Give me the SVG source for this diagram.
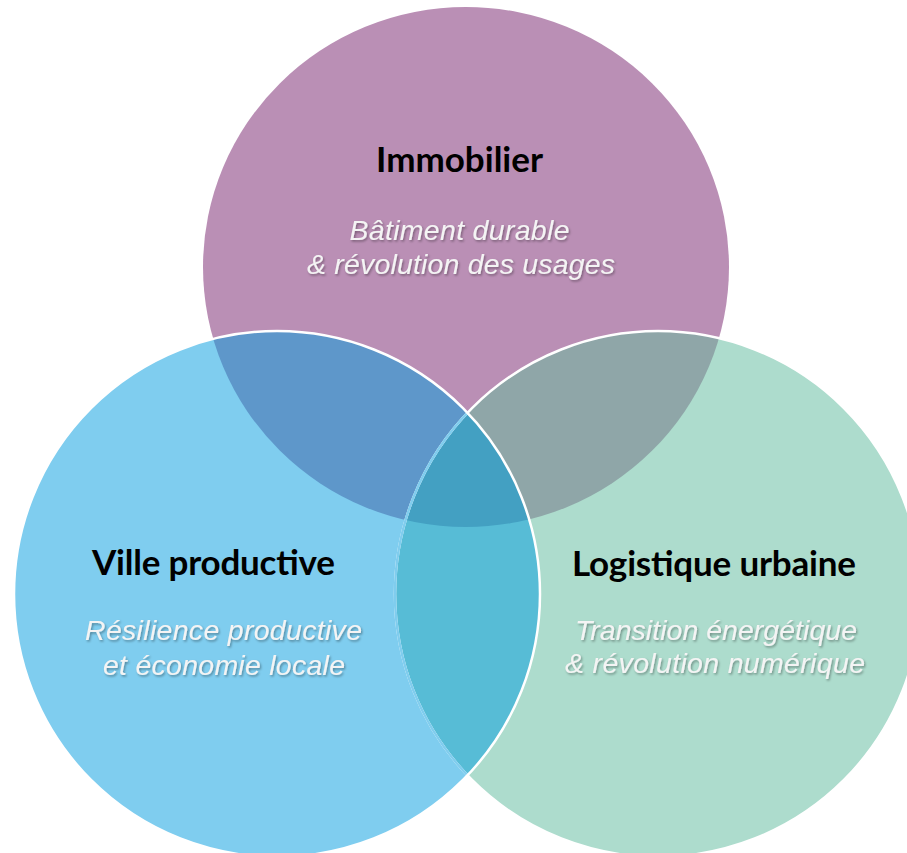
<svg xmlns="http://www.w3.org/2000/svg" width="907" height="853" viewBox="0 0 907 853">
  <style>
    .title { font-family: Lato, "Liberation Sans", sans-serif; font-weight: 700; font-size: 35px; fill: #000; text-anchor: middle; }
    .sub { font-family: "Liberation Sans", Arial, sans-serif; font-style: italic; font-size: 28.5px; fill: #F4F4F4; text-anchor: middle; filter: url(#shadow); }
  </style>
  <defs>
    <filter id="shadow" x="-10%" y="-30%" width="120%" height="160%">
      <feDropShadow dx="1.2" dy="1.6" stdDeviation="1" flood-color="#000" flood-opacity="0.35"/>
    </filter>
    <ellipse id="cT" cx="466" cy="267" rx="263" ry="260"/>
    <circle id="cL" cx="277" cy="594" r="263"/>
    <circle id="cR" cx="658" cy="594" r="263"/>
    <clipPath id="clipT"><use href="#cT"/></clipPath>
    <clipPath id="clipL"><use href="#cL"/></clipPath>
    <clipPath id="clipR"><use href="#cR"/></clipPath>
  </defs>

  <rect width="907" height="853" fill="#FFFFFF"/>

  <g id="immobilier">
    <use href="#cT" fill="#BA8FB5"/>
  </g>
  <g id="logistique-urbaine">
    <use href="#cR" fill="#ADDCCD"/>
  </g>
  <g id="ville-productive">
    <use href="#cL" fill="#7FCDEF"/>
  </g>

  <g id="overlaps">
    <g clip-path="url(#clipT)">
      <use href="#cL" fill="#5E97CA"/>
      <use href="#cR" fill="#8FA6A8"/>
    </g>
    <g clip-path="url(#clipL)">
      <use href="#cR" fill="#57BCD6"/>
    </g>
    <g clip-path="url(#clipT)">
      <g clip-path="url(#clipL)">
        <use href="#cR" fill="#43A0C2"/>
      </g>
    </g>
  </g>

  <g id="connectors">
    <use href="#cR" fill="none" stroke="#FFFFFF" stroke-width="2.5"/>
    <g clip-path="url(#clipL)">
      <use href="#cR" fill="none" stroke="#80CDEE" stroke-width="2.5"/>
    </g>
    <use href="#cL" fill="none" stroke="#FFFFFF" stroke-width="2.5"/>
  </g>

  <g id="labels">
    <text class="title" x="459.5" y="172" textLength="167" lengthAdjust="spacing">Immobilier</text>
    <text class="sub" x="459.5" y="240" textLength="220" lengthAdjust="spacing">Bâtiment durable</text>
    <text class="sub" x="461" y="274" textLength="308" lengthAdjust="spacing">&amp; révolution des usages</text>

    <text class="title" x="213.5" y="575" textLength="243" lengthAdjust="spacing">Ville productive</text>
    <text class="sub" x="223.5" y="640" textLength="277" lengthAdjust="spacing">Résilience productive</text>
    <text class="sub" x="224" y="675" textLength="242" lengthAdjust="spacing">et économie locale</text>

    <text class="title" x="714" y="576" textLength="284" lengthAdjust="spacing">Logistique urbaine</text>
    <text class="sub" x="716" y="640" textLength="282" lengthAdjust="spacing">Transition énergétique</text>
    <text class="sub" x="715" y="673" textLength="300" lengthAdjust="spacing">&amp; révolution numérique</text>
  </g>
</svg>
